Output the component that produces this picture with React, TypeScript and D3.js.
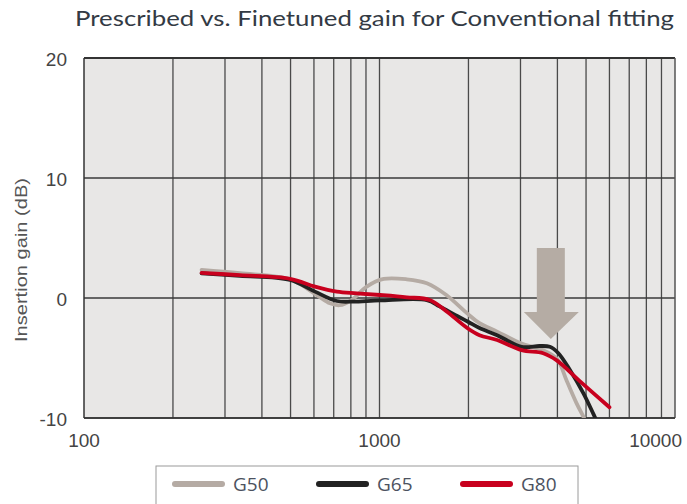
import React from "react";
import * as d3 from "d3";

const freqG50 = [250, 337, 498, 613, 680, 733, 804, 905, 1033, 1237, 1446, 1683, 1980, 2180, 2500, 3027, 3580, 3980, 4300, 4650, 4900, 5050];
const gainG50 = [2.35, 2.07, 1.56, 0.25, -0.44, -0.6, -0.17, 0.95, 1.59, 1.56, 1.23, 0.25, -1.28, -2.1, -2.8, -3.8, -4.35, -5.05, -6.9, -8.8, -9.9, -10.6];
const freqG65 = [250, 337, 498, 605, 717, 814, 1004, 1446, 1597, 1831, 2000, 2180, 2500, 3027, 3481, 3770, 4030, 4410, 4900, 5350, 5500];
const gainG65 = [2.05, 1.84, 1.5, 0.53, -0.25, -0.3, -0.2, -0.17, -0.7, -1.5, -2.0, -2.5, -3.1, -4.07, -4.0, -4.07, -4.6, -6.0, -7.95, -9.9, -10.5];
const freqG80 = [250, 337, 498, 605, 717, 837, 1004, 1237, 1479, 1683, 1980, 2180, 2500, 3027, 3580, 3980, 4750, 6000];
const gainG80 = [2.1, 1.9, 1.6, 0.95, 0.53, 0.39, 0.25, 0.06, -0.17, -1.1, -2.5, -3.1, -3.5, -4.35, -4.6, -5.2, -6.9, -9.1];

const seriesNames = ["G50", "G65", "G80"];
const seriesColors = ["#b5aba4", "#222222", "#c8001e"];
const gridFreqs = [200, 300, 400, 500, 600, 700, 800, 900, 1000, 2000, 3000, 4000, 5000, 6000, 7000, 8000, 9000];
const xTickLabels = [100, 1000, 10000];
const yTicks = [20, 10, 0, -10];

export default function App() {
  const left = 84, right = 675, top = 58, bottom = 418;
  const x = d3.scaleLog().domain([100, 10000]).range([left, right]);
  const y = d3.scaleLinear().domain([-10, 20]).range([bottom, top]);
  const line = d3
    .line<[number, number]>()
    .x((d) => x(d[0]))
    .y((d) => y(d[1]))
    .curve(d3.curveCatmullRom.alpha(0.5));
  const series = [
    freqG50.map((f, i) => [f, gainG50[i]] as [number, number]),
    freqG65.map((f, i) => [f, gainG65[i]] as [number, number]),
    freqG80.map((f, i) => [f, gainG80[i]] as [number, number]),
  ];
  const legendX = [173, 317, 461];
  const arrowX = x(3800);

  return (
    <svg width={687} height={504} style={{ position: "absolute", left: 0, top: 0 }}>
      <rect x={0} y={0} width={687} height={504} fill="#ffffff" />
      <text
        x={75}
        y={26}
        fontFamily="Lato, 'Open Sans', sans-serif"
        fontSize={21}
        fill="#333a44"
        textLength={599}
        lengthAdjust="spacingAndGlyphs"
      >
        Prescribed vs. Finetuned gain for Conventional fitting
      </text>
      <defs>
        <clipPath id="plotclip">
          <rect x={left} y={top} width={right - left} height={bottom - top} />
        </clipPath>
      </defs>
      <rect x={left} y={top} width={right - left} height={bottom - top} fill="#e8e7e6" />
      {gridFreqs.map((f) => (
        <line key={f} x1={x(f)} x2={x(f)} y1={top} y2={bottom} stroke="#4a4a4a" strokeWidth={1.3} />
      ))}
      {yTicks.map((v) => (
        <line key={v} x1={left} x2={right} y1={y(v)} y2={y(v)} stroke="#3a3a3a" strokeWidth={1.3} />
      ))}
      <line x1={left} x2={right} y1={top} y2={top} stroke="#333" strokeWidth={2} />
      <line x1={left} x2={left} y1={top} y2={bottom} stroke="#333" strokeWidth={1.5} />
      <line x1={right} x2={right} y1={top} y2={bottom} stroke="#555" strokeWidth={1.5} />
      <line x1={left} x2={right} y1={bottom} y2={bottom} stroke="#333" strokeWidth={1.5} />
      {/* arrow */}
      <g fill="#b5aca4">
        <rect x={arrowX - 14} y={248} width={28} height={65} />
        <polygon points={`${arrowX - 27},312 ${arrowX + 28},312 ${arrowX},339`} />
      </g>
      <g clipPath="url(#plotclip)">
        {series.map((s, i) => (
          <path
            key={i}
            d={line(s) || ""}
            fill="none"
            stroke={seriesColors[i]}
            strokeWidth={3.8}
            strokeLinecap="round"
            strokeLinejoin="round"
          />
        ))}
      </g>
      {yTicks.map((v) => (
        <text
          key={v}
          x={67}
          y={y(v) + 8}
          textAnchor="end"
          fontFamily="'Liberation Sans', Arial, sans-serif"
          fontSize={19}
          fill="#444"
        >
          {v}
        </text>
      ))}
      {xTickLabels.map((v) => (
        <text
          key={v}
          x={v === 10000 ? 682 : x(v)}
          y={447}
          textAnchor={v === 10000 ? "end" : "middle"}
          fontFamily="'Liberation Sans', Arial, sans-serif"
          fontSize={19}
          fill="#444"
        >
          {v}
        </text>
      ))}
      <text
        transform={`translate(27,260) rotate(-90)`}
        textAnchor="middle"
        fontFamily="'Liberation Sans', Arial, sans-serif"
        fontSize={17}
        fill="#555"
        textLength={164}
        lengthAdjust="spacingAndGlyphs"
      >
        Insertion gain (dB)
      </text>
      <rect x={156} y={466} width={422} height={60} fill="#fff" stroke="#9a9a9a" strokeWidth={1} />
      {seriesNames.map((n, i) => (
        <g key={n}>
          <line
            x1={legendX[i] + 2}
            x2={legendX[i] + 49}
            y1={484}
            y2={484}
            stroke={seriesColors[i]}
            strokeWidth={6}
            strokeLinecap="round"
          />
          <text
            x={legendX[i] + 60}
            y={491}
            fontFamily="'Open Sans', Lato, sans-serif"
            fontSize={19}
            fill="#4c5260"
          >
            {n}
          </text>
        </g>
      ))}
    </svg>
  );
}
